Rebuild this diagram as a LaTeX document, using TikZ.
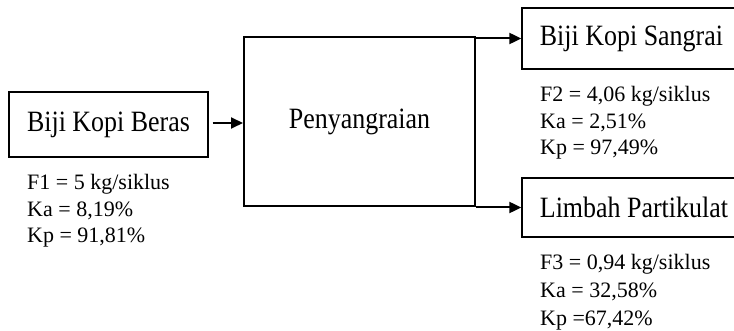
\documentclass[tikz,border=0pt]{standalone}
\usepackage{fontspec}
\setmainfont{Liberation Serif}
\newfontfamily\bigserif[FakeStretch=0.88]{Liberation Serif}
\usetikzlibrary{arrows.meta,calc}
\begin{document}
\begin{tikzpicture}[x=1pt,y=-1pt,
  thinbox/.style={draw,line width=1.3pt,inner sep=0pt,font=\bigserif\fontsize{29.5}{30}\selectfont},
  procbox/.style={draw,line width=2pt,inner sep=0pt,font=\bigserif\fontsize{29.5}{30}\selectfont},
  datatext/.style={anchor=base west,inner sep=0pt,font=\fontsize{22}{26}\selectfont},
  flow/.style={line width=2pt,-{Triangle[length=12pt,width=11pt]}}]
\useasboundingbox (0,0) rectangle (734,331);
\begin{scope}
\clip (0,0) rectangle (734,331);
\node[thinbox,minimum width=199pt,minimum height=65pt] (B) at (108.5,124.5) {Biji Kopi Beras};
\node[procbox,minimum width=231pt,minimum height=169pt] (P) at (359.5,121.5) {Penyangraian};
\node[thinbox,minimum width=219pt,minimum height=61pt] (S) at (631.5,38.5) {Biji Kopi Sangrai};
\node[thinbox,minimum width=224pt,minimum height=59pt] (L) at (634,207.5) {Limbah Partikulat};
\end{scope}
\coordinate (a0) at ($(B.east)+(4,-1.5)$);
\draw[flow] (a0) -- (a0 -| P.west);
\draw[flow] (P.east |- S.west) -- (S.west);
\draw[flow] (P.east |- L.west) -- (L.west);
\node[datatext] (f1) at (27,190) {F1 = 5 kg/siklus};
\node[datatext] (ka1) at (27,216.7) {Ka = 8,19\%};
\node[datatext] (kp1) at (27,243) {Kp = 91,81\%};
\node[datatext] (f2) at (540,101.7) {F2 = 4,06 kg/siklus};
\node[datatext] (ka2) at (540,128.3) {Ka = 2,51\%};
\node[datatext] (kp2) at (540,155) {Kp = 97,49\%};
\node[datatext] (f3) at (540,269.3) {F3 = 0,94 kg/siklus};
\node[datatext] (ka3) at (540,297.7) {Ka = 32,58\%};
\node[datatext] (kp3) at (540,325) {Kp =67,42\%};
\end{tikzpicture}
\end{document}
